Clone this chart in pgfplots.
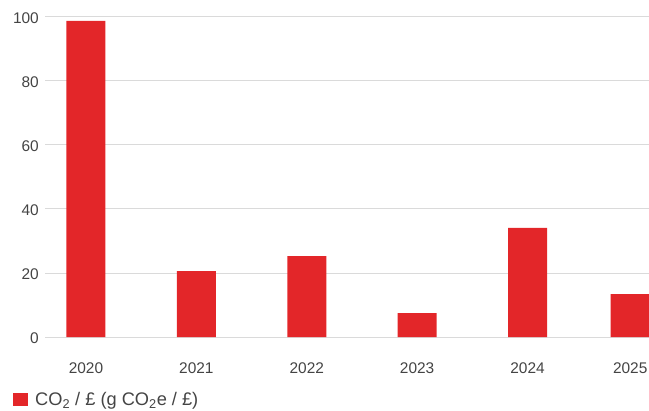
\documentclass[border=0pt]{standalone}
\usepackage{fontspec}
\setmainfont{Liberation Sans}
\usepackage{pgfplots}
\pgfplotsset{compat=1.18}
\definecolor{barred}{HTML}{E32629}
\definecolor{gridgray}{HTML}{DADADA}
\definecolor{txtgray}{HTML}{444444}
\begin{document}
\begin{tikzpicture}
\path[use as bounding box] (-45bp,-74bp) rectangle (604bp,337bp);
\begin{axis}[
  at={(0,0)}, anchor=south west,
  scale only axis,
  width=604bp, height=320bp,
  xmin=-0.371, xmax=5.10,
  ymin=0, ymax=100,
  ytick={0,20,40,60,80,100},
  xtick={0,1,2,3,4,4.93},
  xticklabels={2020,2021,2022,2023,2024,2025},
  ymajorgrids,
  major grid style={draw=gridgray, line width=1bp},
  axis line style={draw=none},
  tick style={draw=none},
  clip=false,
  /pgf/number format/assume math mode=true,
  ticklabel style={font=\fontsize{15.5}{18}\selectfont, text=txtgray},
  yticklabel style={anchor=east, inner sep=0pt, xshift=-6bp, yshift=-1.5bp},
  xticklabel style={anchor=base, inner sep=0pt, yshift=-32bp},
  ybar, bar width=39bp,
  legend style={at={(axis description cs:-0.053,-0.195)}, anchor=west,
    draw=none, fill=none, inner sep=0pt,
    font=\fontsize{18.3}{21}\selectfont, text=txtgray,
    nodes={inner sep=0pt},
    /tikz/every even column/.append style={column sep=0pt}},
  legend image code/.code={\fill[barred] (0bp,-7bp) rectangle (15bp,6bp); \path (22bp,0bp);},
]
\addplot[fill=barred, draw=none, bar shift=0pt] coordinates {
  (0,98.8) (1,20.6) (2,25.3) (3,7.5) (4,34.1) (4.93,13.4)
};
\addlegendentry{CO\textsubscript{2} / £ (g CO\textsubscript{2}e / £)}
\end{axis}
\end{tikzpicture}
\end{document}
